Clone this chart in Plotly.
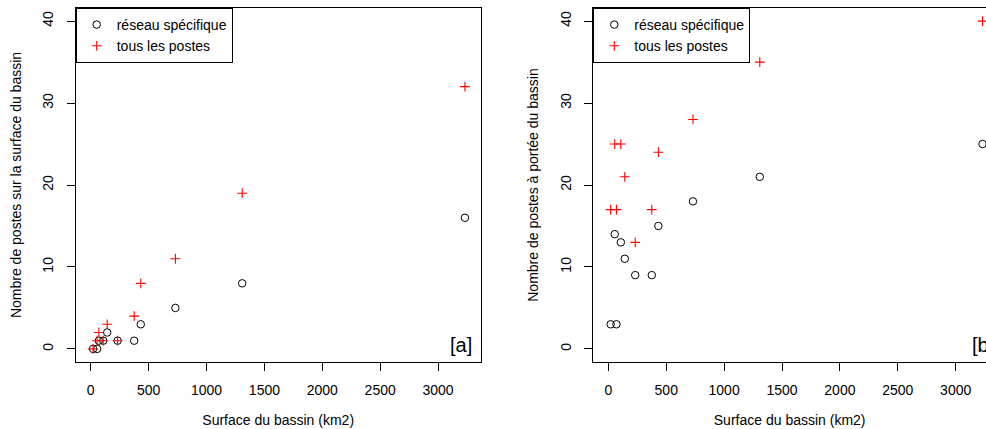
import plotly.graph_objects as go

# Basin surfaces (km2)
surface = [20, 55, 70, 108, 142, 232, 375, 432, 731, 1308, 3232]

# Panel [a]: number of stations on the basin surface
surf_reseau = [0, 0, 1, 1, 2, 1, 1, 3, 5, 8, 16]
surf_tous = [0, 1, 2, 1, 3, 1, 4, 8, 11, 19, 32]

# Panel [b]: number of stations within reach of the basin
portee_reseau = [3, 14, 3, 13, 11, 9, 9, 15, 18, 21, 25]
portee_tous = [17, 25, 17, 25, 21, 13, 17, 24, 28, 35, 40]

x_ticks = [0, 500, 1000, 1500, 2000, 2500, 3000]
y_ticks = [0, 10, 20, 30, 40]

series_names = ["réseau spécifique", "tous les postes"]
x_title = "Surface du bassin (km2)"
y_title_a = "Nombre de postes sur la surface du bassin"
y_title_b = "Nombre de postes à portée du bassin"
panel_labels = ["[a]", "[b]"]

W, H = 986, 429
FONT = "Liberation Sans, Arial, Helvetica, sans-serif"

circle_marker = dict(symbol="circle-open", size=7.5, color="black", line=dict(width=1, color="black"))
cross_marker = dict(symbol="cross-thin-open", size=7, color="#FF0000", line=dict(width=1.1, color="#FF0000"))

fig = go.Figure()
fig.add_trace(go.Scatter(x=surface, y=surf_reseau, mode="markers", name=series_names[0],
                         marker=circle_marker, xaxis="x", yaxis="y", legend="legend", cliponaxis=False))
fig.add_trace(go.Scatter(x=surface, y=surf_tous, mode="markers", name=series_names[1],
                         marker=cross_marker, xaxis="x", yaxis="y", legend="legend", cliponaxis=False))
fig.add_trace(go.Scatter(x=surface, y=portee_reseau, mode="markers", name=series_names[0],
                         marker=circle_marker, xaxis="x2", yaxis="y2", legend="legend2", cliponaxis=False))
fig.add_trace(go.Scatter(x=surface, y=portee_tous, mode="markers", name=series_names[1],
                         marker=cross_marker, xaxis="x2", yaxis="y2", legend="legend2", cliponaxis=False))

ydom = [(H - 362) / H, (H - 8) / H]

common_x = dict(tickvals=x_ticks, ticktext=[str(v) for v in x_ticks], ticks="outside", ticklen=8,
                tickcolor="black", tickwidth=1, showline=True, linecolor="black", linewidth=1,
                mirror=True, showgrid=False, zeroline=False, ticklabelstandoff=7, automargin=False,
                tickfont=dict(size=14, family=FONT, color="black"))
common_y = dict(tickvals=y_ticks, ticktext=[str(v) for v in y_ticks], ticks="outside", ticklen=8,
                tickcolor="black", tickwidth=1, showline=True, linecolor="black", linewidth=1,
                showgrid=False, zeroline=False, tickangle=-90, range=[-1.6, 41.6], domain=ydom,
                ticklabelstandoff=8, automargin=False,
                tickfont=dict(size=14, family=FONT, color="black"))

legend_common = dict(y=1 - 8 / H, xanchor="left", yanchor="top", bgcolor="white",
                     bordercolor="black", borderwidth=1, font=dict(size=14, family=FONT),
                     itemclick=False, itemdoubleclick=False, tracegroupgap=0)

fig.update_layout(
    width=W, height=H,
    margin=dict(l=0, r=0, t=0, b=0),
    plot_bgcolor="white", paper_bgcolor="white",
    font=dict(family=FONT, size=14, color="black"),
    showlegend=True,
    xaxis=dict(common_x, domain=[75.7 / W, 480.7 / W], range=[-130, 3368], anchor="y",
               title=dict(text=x_title, standoff=18, font=dict(size=14, family=FONT))),
    yaxis=dict(common_y, anchor="x", mirror=True,
               title=dict(text=y_title_a, standoff=15, font=dict(size=14, family=FONT))),
    xaxis2=dict(common_x, domain=[593.3 / W, 1.0], range=[-130, 3262], anchor="y2",
                title=dict(text=x_title, standoff=18, font=dict(size=14, family=FONT))),
    yaxis2=dict(common_y, anchor="x2", mirror=False,
                title=dict(text=y_title_b, standoff=15, font=dict(size=14, family=FONT))),
    legend=dict(legend_common, x=75.7 / W),
    legend2=dict(legend_common, x=593.3 / W),
    annotations=[
        dict(text=panel_labels[0], xref="paper", yref="paper", x=474 / W, y=(H - 345) / H,
             xanchor="right", yanchor="middle", showarrow=False, font=dict(size=20, family=FONT)),
        dict(text=panel_labels[1], xref="paper", yref="paper", x=969.5 / W, y=(H - 345) / H,
             xanchor="left", yanchor="middle", showarrow=False, font=dict(size=20, family=FONT)),
    ],
)

fig.write_html(
    "out.html",
    config={"displayModeBar": False},
    post_script="document.body.style.margin='0px';document.body.style.overflow='hidden';"
                "document.documentElement.style.overflow='hidden';",
)
